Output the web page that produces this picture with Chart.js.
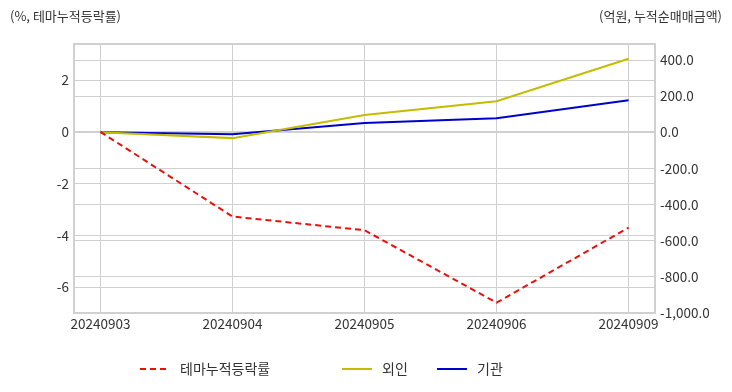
<!DOCTYPE html>
<html>
<head>
<meta charset="utf-8">
<script src="https://cdn.jsdelivr.net/npm/chart.js@4"></script>
<style>
  html, body { margin: 0; padding: 0; background: #fff; }
  #wrap { width: 732px; height: 392px; position: relative; }
</style>
</head>
<body>
<div id="wrap"><canvas id="chart" width="732" height="392"></canvas></div>
<script>
// data
const dates = ['20240903', '20240904', '20240905', '20240906', '20240909'];
const themeRate = [0, -3.27, -3.8, -6.6, -3.7];     // %, 테마누적등락률 (left axis)
const foreign = [0, -32, 96, 172, 407];             // 억원, 외인 (right axis)
const institution = [0, -11, 52, 78, 178];          // 억원, 기관 (right axis)

const FONT = '"Noto Sans CJK KR", "Noto Sans", sans-serif';
const toPoints = arr => arr.map((v, i) => ({ x: i, y: v }));

// axis titles, plot frame and custom legend drawn on the canvas
const extras = {
    id: 'extras',
    beforeDatasetsDraw(chart) {
        const a = chart.chartArea;
        const ctx = chart.ctx;
        ctx.save();
        ctx.strokeStyle = '#d0d0d0';
        ctx.lineWidth = 2;
        ctx.strokeRect(a.left, a.top, a.right - a.left, a.bottom - a.top);
        ctx.restore();
    },
    afterDraw(chart) {
        const ctx = chart.ctx;
        ctx.save();
        ctx.fillStyle = '#333';
        ctx.font = '13px ' + FONT;
        ctx.textBaseline = 'middle';
        ctx.textAlign = 'left';
        ctx.fillText('(%, 테마누적등락률)', 10, 16);
        ctx.textAlign = 'right';
        ctx.fillText('(억원, 누적순매매금액)', 722, 16);

        // legend
        const items = [[140, 0], [342, 1], [437, 2]];
        ctx.font = '14px ' + FONT;
        ctx.textAlign = 'left';
        items.forEach(([x, idx]) => {
            const ds = chart.data.datasets[idx];
            ctx.beginPath();
            ctx.setLineDash(ds.borderDash || []);
            ctx.strokeStyle = ds.borderColor;
            ctx.lineWidth = 2;
            ctx.moveTo(x, 369);
            ctx.lineTo(x + 30, 369);
            ctx.stroke();
            ctx.setLineDash([]);
            ctx.fillStyle = '#333';
            ctx.fillText(ds.label, x + 40, 369);
        });
        ctx.restore();
    }
};

new Chart(document.getElementById('chart'), {
    type: 'line',
    data: {
        datasets: [
            {
                label: '테마누적등락률',
                data: toPoints(themeRate),
                yAxisID: 'y',
                borderColor: '#e8100f',
                borderDash: [6, 4],
                borderWidth: 2,
                pointRadius: 0,
                tension: 0
            },
            {
                label: '외인',
                data: toPoints(foreign),
                yAxisID: 'y1',
                borderColor: '#c4bc00',
                borderWidth: 2,
                pointRadius: 0,
                tension: 0
            },
            {
                label: '기관',
                data: toPoints(institution),
                yAxisID: 'y1',
                borderColor: '#0000cc',
                borderWidth: 2,
                pointRadius: 0,
                tension: 0
            }
        ]
    },
    options: {
        responsive: false,
        animation: false,
        layout: { padding: { top: 44, left: 0, right: 0, bottom: 0 } },
        plugins: {
            legend: { display: false },
            tooltip: { enabled: false }
        },
        scales: {
            x: {
                type: 'linear',
                min: -0.2,
                max: 4.2,
                afterBuildTicks: s => { s.ticks = dates.map((d, i) => ({ value: i })); },
                afterFit: s => { s.height = 79; },
                ticks: {
                    callback: v => dates[v],
                    color: '#333',
                    font: { family: FONT, size: 13.5 },
                    padding: 3,
                    maxRotation: 0,
                    autoSkip: false
                },
                grid: { color: '#d0d0d0', drawTicks: false },
                border: { color: '#d0d0d0', width: 2 }
            },
            y: {
                position: 'left',
                min: -7,
                max: 3.4,
                afterBuildTicks: s => { s.ticks = [-6, -4, -2, 0, 2].map(v => ({ value: v })); },
                afterFit: s => { s.width = 74; },
                ticks: {
                    color: '#333',
                    font: { family: FONT, size: 13.5 },
                    padding: 5
                },
                grid: { color: '#d0d0d0', drawTicks: false },
                border: { color: '#d0d0d0', width: 2 }
            },
            y1: {
                position: 'right',
                min: -1000,
                max: 489,
                afterBuildTicks: s => { s.ticks = [-1000, -800, -600, -400, -200, 0, 200, 400].map(v => ({ value: v })); },
                afterFit: s => { s.width = 77; },
                ticks: {
                    color: '#333',
                    font: { family: FONT, size: 13.5 },
                    padding: 5,
                    callback: v => v.toLocaleString('en-US', { minimumFractionDigits: 1, maximumFractionDigits: 1 })
                },
                grid: { color: '#d0d0d0', drawTicks: false },
                border: { color: '#d0d0d0', width: 2 }
            }
        }
    },
    plugins: [extras]
});
</script>
</body>
</html>
